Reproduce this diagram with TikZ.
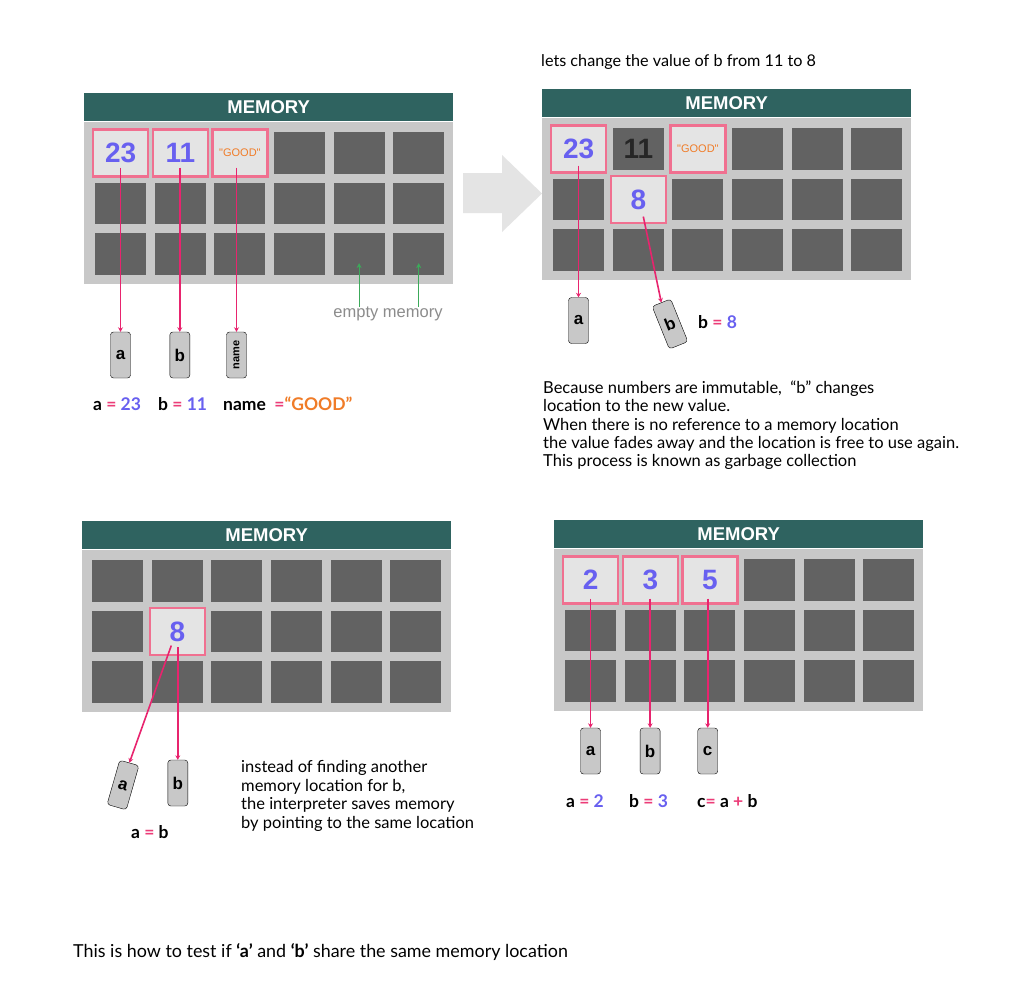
\documentclass[tikz,border=0pt]{standalone}
\usepackage{fontspec}
\setmainfont{Lato}
\newfontfamily\arialfont{Liberation Sans}
\usetikzlibrary{arrows.meta}

\definecolor{memteal}{RGB}{47,99,96}
\definecolor{memgray}{RGB}{200,200,200}
\definecolor{celldark}{RGB}{98,98,98}
\definecolor{cellfill}{RGB}{228,228,228}
\definecolor{cellpink}{RGB}{240,112,144}
\definecolor{ptrpink}{RGB}{232,36,110}
\definecolor{valpurple}{RGB}{104,96,240}
\definecolor{valorange}{RGB}{240,124,40}
\definecolor{eqpink}{RGB}{236,60,120}
\definecolor{taggray}{RGB}{200,200,200}
\definecolor{arrowgray}{RGB}{228,228,228}
\definecolor{emptygreen}{RGB}{60,170,90}

\begin{document}
\begin{tikzpicture}[x=1pt, y=-1pt,
    header/.style={fill=memteal, minimum width=369pt, minimum height=28pt, inner sep=0, anchor=north west, text=white, font=\arialfont\bfseries\fontsize{18.5}{20}\selectfont},
    membody/.style={fill=memgray, minimum width=369pt, minimum height=162pt, inner sep=0, anchor=north west},
    cell/.style={fill=celldark, minimum width=51pt, minimum height=41.5pt, inner sep=0, anchor=north west},
    used/.style={fill=cellfill, draw=cellpink, line width=2.2pt, minimum width=55pt, minimum height=47pt, inner sep=0, text=valpurple, font=\arialfont\bfseries\fontsize{28}{30}\selectfont},
    strval/.style={used, text=valorange, font=\arialfont\fontsize{11}{13}\selectfont},
    tag/.style={draw=black, fill=taggray, rounded corners=3pt, minimum width=20pt, minimum height=46pt, inner sep=0, font=\arialfont\bfseries\fontsize{17}{19}\selectfont},
    ptr/.style={draw=ptrpink, line width=1.6pt, -{Stealth[length=4.5pt,width=5pt]}},
    lbl/.style={anchor=base west, inner sep=0, font=\bfseries\fontsize{17.5}{20}\selectfont},
    note/.style={anchor=north west, inner sep=0, align=left, font=\fontsize{16.5}{18.4}\selectfont}]
\useasboundingbox[fill=white] (0,0) rectangle (1028,994);

% first memory: a, b and name
\node[header] (h1) at (84,93) {MEMORY};
\node[membody] (b1) at (h1.south west) {};
\foreach \r in {1,2,3}
  \foreach \c in {1,...,6}
    \node[cell] (m1-\r-\c) at ({95+(\c-1)*59.6},{132+(\r-1)*50.6}) {};
\node[used] (v23a) at (m1-1-1.center) {23};
\node[used] (v11a) at (m1-1-2.center) {11};
\node[strval] (vgood1) at (m1-1-3.center) {"GOOD"};
\node[tag] (ta1) at (120.5,355) {a};
\node[tag] (tb1) at (179.8,355) {b};
\node[tag, font=\arialfont\bfseries\fontsize{11}{13}\selectfont] (tname1) at (236.5,355) {\rotatebox{90}{name}};
\draw[ptr] (ta1.north |- v23a.south) ++(0,-10) -- (ta1.north);
\draw[ptr] (tb1.north |- v11a.south) ++(0,-10) -- (tb1.north);
\draw[ptr] (tname1.north |- vgood1.south) ++(0,-10) -- (tname1.north);
\node[lbl] (la1) at (93,410) {a {\color{eqpink}=} {\color{valpurple}23}};
\node[lbl] (lb1) at (158,410) {b {\color{eqpink}=} {\color{valpurple}11}};
\node[lbl] (lname1) at (223,410) {name \ {\color{eqpink}=}{\color{valorange}``GOOD''}};
\node[text=black!45, inner sep=0, font=\arialfont\fontsize{16.5}{18}\selectfont] (empty) at (388,314) {empty memory};
\draw[emptygreen, line width=1pt, -{Stealth[length=5pt,width=5pt]}] (m1-3-5.center |- empty.north) -- ([yshift=12pt]m1-3-5.south);
\draw[emptygreen, line width=1pt, -{Stealth[length=5pt,width=5pt]}] (m1-3-6.center |- empty.north) -- ([yshift=12pt]m1-3-6.south);

% big arrow between the two
\fill[arrowgray] (463,173) -- (502,173) -- (502,155) -- (542,193.5) -- (502,232) -- (502,213) -- (463,213) -- cycle;

% second memory: b moves to 8
\node[anchor=base west, inner sep=0, font=\fontsize{16.2}{18}\selectfont] (title2) at (541,66) {lets change the value of b from 11 to 8};
\node[header] (h2) at (542,89) {MEMORY};
\node[membody] (b2) at (h2.south west) {};
\foreach \r in {1,2,3}
  \foreach \c in {1,...,6}
    \node[cell] (m2-\r-\c) at ({553+(\c-1)*59.6},{128+(\r-1)*50.6}) {};
\node[used] (v23b) at (m2-1-1.center) {23};
\node[text=black!85, font=\arialfont\bfseries\fontsize{28}{30}\selectfont] (v11b) at (m2-1-2.center) {11};
\node[strval] (vgood2) at (m2-1-3.center) {"GOOD"};
\node[used] (v8b) at (m2-2-2.center) {8};
\node[tag] (ta2) at (578.5,320.5) {a};
\node[tag, rotate=22] (tb2) at (670,324) {b};
\draw[ptr] (ta2.north |- v23b.south) ++(0,-8) -- (ta2.north);
\draw[ptr] ([xshift=5pt,yshift=-17pt]v8b.center) -- (tb2.north);
\node[lbl] (lb2) at (698,328) {b {\color{eqpink}=} {\color{valpurple}8}};
\node[note] (gc) at (543,380.5) {Because numbers are immutable, \ ``b'' changes\\
location to the new value.\\
When there is no reference to a memory location\\
the value fades away and the location is free to use again.\\
This process is known as garbage collection};

% third memory: a = b
\node[header] (h3) at (82,521) {MEMORY};
\node[membody] (b3) at (h3.south west) {};
\foreach \r in {1,2,3}
  \foreach \c in {1,...,6}
    \node[cell] (m3-\r-\c) at ({92+(\c-1)*59.6},{560+(\r-1)*50.6}) {};
\node[used] (v8c) at (m3-2-2.center) {8};
\node[tag, rotate=-16] (ta3) at (123,785) {a};
\node[tag] (tb3) at (177.8,783) {b};
\draw[ptr] ([xshift=-6pt,yshift=-14pt]v8c.center) -- (ta3.north);
\draw[ptr] (tb3.north |- v8c.south) ++(0,-9) -- (tb3.north);
\node[lbl] (lab3) at (131,838) {a {\color{eqpink}=} b};
\node[note] (same) at (241,760.5) {instead of finding another\\
memory location for b,\\
the interpreter saves memory\\
by pointing to the same location};

% fourth memory: c = a + b
\node[header] (h4) at (554,520) {MEMORY};
\node[membody] (b4) at (h4.south west) {};
\foreach \r in {1,2,3}
  \foreach \c in {1,...,6}
    \node[cell] (m4-\r-\c) at ({565+(\c-1)*59.6},{559+(\r-1)*50.6}) {};
\node[used] (v2d) at (m4-1-1.center) {2};
\node[used] (v3d) at (m4-1-2.center) {3};
\node[used] (v5d) at (m4-1-3.center) {5};
\node[tag] (ta4) at (590.5,751) {a};
\node[tag] (tb4) at (650.1,751) {b};
\node[tag] (tc4) at (707.7,751) {c};
\draw[ptr] (ta4.north |- v2d.south) ++(0,-6) -- (ta4.north);
\draw[ptr] (tb4.north |- v3d.south) ++(0,-6) -- (tb4.north);
\draw[ptr] (tc4.north |- v5d.south) ++(0,-6) -- (tc4.north);
\node[lbl] (la4) at (566,807) {a {\color{eqpink}=} {\color{valpurple}2}};
\node[lbl] (lb4) at (629,807) {b {\color{eqpink}=} {\color{valpurple}3}};
\node[lbl] (lc4) at (697,807) {c{\color{eqpink}=} a {\color{eqpink}+} b};

\node[anchor=base west, inner sep=0, font=\fontsize{17.9}{20}\selectfont] (test) at (73,957) {This is how to test if \textbf{`a'} and \textbf{`b'} share the same memory location};
\end{tikzpicture}
\end{document}
